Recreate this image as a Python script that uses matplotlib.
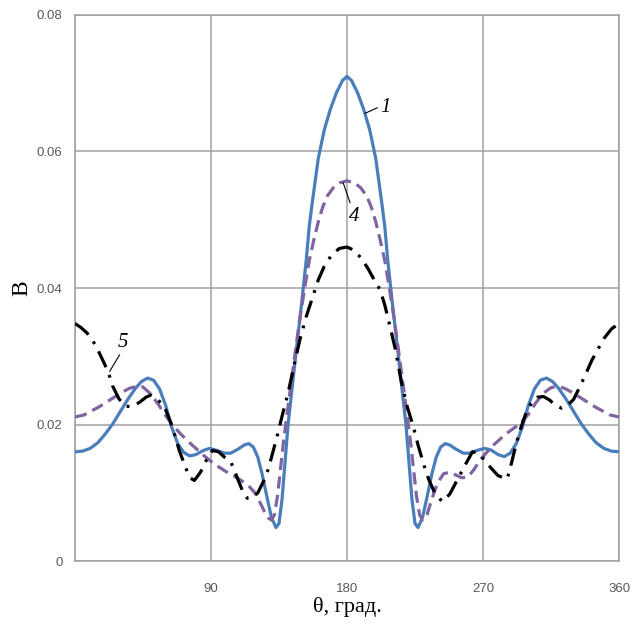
import matplotlib.pyplot as plt

# curve 1 (solid blue)
theta_1 = [0, 5, 10, 15, 20, 25, 30, 35, 40, 44, 48, 52, 56, 60, 64, 68, 72, 76, 80, 85,
           89, 94, 99, 103, 108, 112, 115, 118, 121, 124, 127, 130, 133, 135, 137, 139, 141,
           144, 147, 150, 153, 155, 157, 161, 165, 169, 173, 177, 180,
           183, 187, 191, 195, 199, 203, 205, 207, 210, 213, 216, 219, 221, 223, 225, 227,
           230, 233, 236, 239, 242, 245, 248, 252, 257, 261, 266, 271, 275, 280, 284, 288,
           292, 296, 300, 304, 308, 312, 316, 320, 325, 330, 335, 340, 345, 350, 355, 360]
b_1 = [0.0160, 0.0161, 0.0165, 0.0173, 0.0186, 0.0201, 0.0219, 0.0237, 0.0253, 0.0263,
       0.0268, 0.0265, 0.0252, 0.0228, 0.0196, 0.0172, 0.0159, 0.0154, 0.0156, 0.0162,
       0.0165, 0.0162, 0.0158, 0.0158, 0.0164, 0.0170, 0.0172, 0.0167, 0.0152, 0.0126,
       0.0094, 0.0064, 0.0049, 0.0055, 0.0090, 0.0145, 0.0200,
       0.0260, 0.0320, 0.0378, 0.0440, 0.0490, 0.0525, 0.0590, 0.0632, 0.0662, 0.0686,
       0.0704, 0.0710,
       0.0704, 0.0686, 0.0662, 0.0632, 0.0590, 0.0525, 0.0490, 0.0440, 0.0378, 0.0320,
       0.0260, 0.0200, 0.0145, 0.0090, 0.0055, 0.0049,
       0.0064, 0.0094, 0.0126, 0.0152, 0.0167, 0.0172, 0.0170, 0.0164, 0.0158, 0.0158,
       0.0162, 0.0165, 0.0163, 0.0156, 0.0153, 0.0158, 0.0172, 0.0196, 0.0228, 0.0252,
       0.0265, 0.0268, 0.0263, 0.0253, 0.0237, 0.0219, 0.0201, 0.0186, 0.0173, 0.0165,
       0.0161, 0.0160]

# curve 4 (dashed purple)
theta_4 = [0, 6, 11, 16, 21, 26, 31, 36, 41, 45, 50, 55, 60, 65, 70, 75, 80, 85, 90, 95,
           100, 105, 110, 115, 119, 122, 125, 128, 130, 132, 134, 136, 138, 140, 143, 146,
           149, 152, 155, 158, 161, 164, 167, 171, 175, 180,
           185, 189, 193, 196, 199, 202, 205, 208, 211, 214, 217, 220, 222, 224, 226, 228,
           230, 233, 236, 240, 244, 248, 252, 256, 260, 264, 268, 272, 276, 280, 285, 290,
           295, 300, 305, 310, 315, 319, 324, 329, 334, 339, 344, 349, 354, 360]
b_4 = [0.0211, 0.0214, 0.0220, 0.0226, 0.0233, 0.0240, 0.0247, 0.0253, 0.0256, 0.0255,
       0.0245, 0.0230, 0.0213, 0.0198, 0.0186, 0.0175, 0.0165, 0.0155, 0.0146, 0.0138,
       0.0131, 0.0125, 0.0118, 0.0110, 0.0100, 0.0088, 0.0074, 0.0063, 0.0060, 0.0068,
       0.0095, 0.0135, 0.0175, 0.0210, 0.0260, 0.0310, 0.0358, 0.0400, 0.0440, 0.0470,
       0.0497, 0.0519, 0.0535, 0.0547, 0.0554, 0.0557,
       0.0554, 0.0547, 0.0535, 0.0519, 0.0497, 0.0470, 0.0440, 0.0400, 0.0358, 0.0310,
       0.0260, 0.0210, 0.0175, 0.0135, 0.0095, 0.0068,
       0.0060, 0.0068, 0.0090, 0.0115, 0.0128, 0.0130, 0.0126, 0.0122, 0.0123, 0.0134,
       0.0148, 0.0158, 0.0168, 0.0176, 0.0186, 0.0194, 0.0202, 0.0215, 0.0232, 0.0246,
       0.0254, 0.0256, 0.0253, 0.0247, 0.0240, 0.0233, 0.0226, 0.0220, 0.0214, 0.0211]

# curve 5 (dash-dot black)
theta_5 = [0, 4, 8, 12, 15, 18, 22, 25, 29, 33, 38, 43, 47, 50, 54, 59, 63, 66, 69, 73,
           76, 79, 83, 87, 91, 95, 99, 103, 107, 111, 114, 117, 121, 125, 128, 131, 134,
           137, 141, 145, 149, 153, 157, 161, 165, 170, 175, 180,
           185, 190, 194, 198, 202, 205, 208, 212, 216, 220, 224, 227, 231, 234, 238, 243,
           248, 253, 258, 263, 267, 271, 275, 280, 286, 289, 292, 295, 298, 302, 306, 310,
           314, 318, 322, 326, 330, 334, 338, 342, 346, 350, 355, 360]
b_5 = [0.0348, 0.0342, 0.0334, 0.0322, 0.0310, 0.0296, 0.0277, 0.0256, 0.0238, 0.0227,
       0.0226, 0.0233, 0.0240, 0.0243, 0.0238, 0.0227, 0.0205, 0.0185, 0.0162, 0.0138,
       0.0122, 0.0118, 0.0130, 0.0148, 0.0162, 0.0160, 0.0152, 0.0146, 0.0124, 0.0102,
       0.0092, 0.0092, 0.0100, 0.0118, 0.0135, 0.0160, 0.0185,
       0.0212, 0.0246, 0.0287, 0.0326, 0.0358, 0.0385, 0.0412, 0.0432, 0.0449, 0.0458,
       0.0460,
       0.0455, 0.0442, 0.0428, 0.0412, 0.0397, 0.0375, 0.0348, 0.0310, 0.0262, 0.0225,
       0.0196, 0.0170, 0.0140, 0.0120, 0.0100, 0.0087,
       0.0098, 0.0119, 0.0140, 0.0160, 0.0158, 0.0148, 0.0137, 0.0125, 0.0120, 0.0145,
       0.0172, 0.0195, 0.0214, 0.0232, 0.0240, 0.0241, 0.0236, 0.0228, 0.0224, 0.0228,
       0.0237, 0.0255, 0.0274, 0.0294, 0.0310, 0.0326, 0.0340, 0.0348]

x_ticks = [0, 90, 180, 270, 360]
x_tick_labels = ['', '90', '180', '270', '360']
y_ticks = [0, 0.02, 0.04, 0.06, 0.08]
y_tick_labels = ['0', '0.02', '0.04', '0.06', '0.08']

fig = plt.figure(figsize=(6.42, 6.35), dpi=100)
ax = fig.add_axes([0.1168, 0.1165, 0.8474, 0.8599])

ax.plot(theta_1, b_1, color='#4a7ebb', lw=2.3, zorder=3)
ax.plot(theta_4, b_4, color='#8064a2', lw=2.3, dashes=(3.8, 2.0), zorder=3)
ax.plot(theta_5, b_5, color='black', lw=2.3, dashes=(5.5, 2.6, 0.9, 2.6), zorder=4)

ax.set_xlim(0, 360)
ax.set_ylim(0, 0.08)
ax.set_xticks(x_ticks)
ax.set_xticklabels(x_tick_labels)
ax.set_yticks(y_ticks)
ax.set_yticklabels(y_tick_labels)
ax.tick_params(axis='both', length=0, labelsize=9.5, labelcolor='#595959')
ax.tick_params(axis='x', pad=16)
ax.tick_params(axis='y', pad=9)
for lab in ax.get_xticklabels() + ax.get_yticklabels():
    lab.set_family('Liberation Sans')

ax.grid(True, color='#a0a0a0', lw=1.1)
ax.set_axisbelow(True)
for s in ax.spines.values():
    s.set_color('#a0a0a0')
    s.set_linewidth(1.1)

ax.set_xlabel('θ, град.', family='Liberation Serif', fontsize=16, labelpad=1)
ax.set_ylabel('B', family='Liberation Serif', fontsize=17, labelpad=3)

# curve labels with leader lines
lab_kw = dict(family='Liberation Serif', style='italic', fontsize=15, va='center', ha='center')
ax.plot([192, 200], [0.0656, 0.0664], color='black', lw=0.8, zorder=5)
ax.text(205.5, 0.0665, '1', **lab_kw)
ax.plot([177.5, 182], [0.0554, 0.0525], color='black', lw=0.8, zorder=5)
ax.text(184.5, 0.0505, '4', **lab_kw)
ax.plot([23, 29.5], [0.0278, 0.0302], color='black', lw=0.8, zorder=5)
ax.text(32, 0.0320, '5', **lab_kw)

fig.savefig('out.png', dpi=100)
